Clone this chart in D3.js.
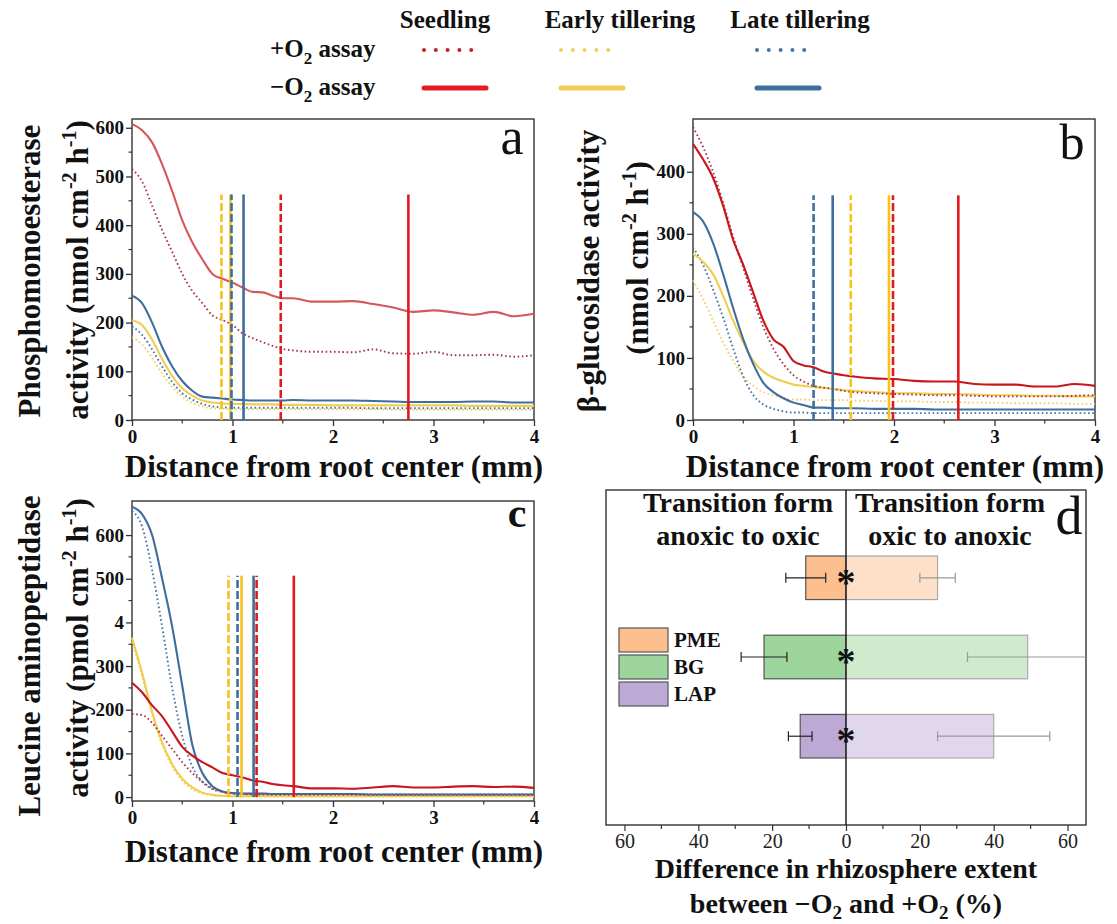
<!DOCTYPE html>
<html>
<head>
<meta charset="utf-8">
<script src="https://cdn.jsdelivr.net/npm/d3@7/dist/d3.min.js"></script>
<style>
  html, body { margin: 0; padding: 0; background: #fff; }
  svg { display: block; }
  svg text { font-family: "Liberation Serif", "Tinos", serif !important; }
</style>
</head>
<body>
<svg id="fig" width="1117" height="924"></svg>
<script>
// ---------------- data ----------------
// distance from root centre (mm), shared sampling grid for panels a–c
const distance = [0,0.1,0.2,0.3,0.4,0.5,0.6,0.7,0.8,0.9,1.0,1.1,1.2,1.3,1.4,1.5,1.6,1.8,2.0,2.2,2.4,2.6,2.8,3.0,3.2,3.4,3.6,3.8,4.0];

// (a) phosphomonoesterase, nmol cm-2 h-1
const pmeSeedlingOx   = [515,490,440,390,345,300,265,240,215,205,195,178,168,160,152,146,143,140,140,139,145,137,136,140,133,133,134,130,133];
const pmeSeedlingAnox = [608,595,570,525,470,410,365,330,300,290,282,272,263,262,255,250,250,243,243,244,238,231,222,225,221,216,222,213,218];
const pmeEarlyOx      = [170,155,128,95,68,48,35,28,24,23,22,22,22,22,22,22,22,22,22,22,22,21,21,21,21,21,21,21,21];
const pmeEarlyAnox    = [205,195,165,125,90,65,50,40,36,34,33,33,32,32,32,31,31,31,30,30,30,30,30,30,30,29,29,29,29];
const pmeLateOx       = [192,175,145,110,78,55,42,33,28,26,25,25,25,25,25,25,25,25,25,25,24,24,24,24,24,24,24,24,24];
const pmeLateAnox     = [255,240,200,150,110,80,60,48,46,44,42,41,40,40,40,40,41,40,40,40,39,38,37,37,37,38,38,36,36];

// (b) beta-glucosidase, nmol cm-2 h-1
const bgSeedlingOx    = [472,440,400,350,295,245,195,150,115,90,72,62,55,52,50,47,45,43,42,41,40,40,39,38,38,38,38,39,40];
const bgSeedlingAnox  = [445,420,390,345,290,250,205,160,130,118,95,88,85,78,75,72,70,67,66,63,62,62,58,57,57,54,54,58,55];
const bgEarlyOx       = [225,195,160,125,95,70,55,45,40,35,33,33,32,32,32,32,31,31,30,30,29,29,28,28,27,27,27,26,26];
const bgEarlyAnox     = [268,255,235,200,160,125,95,78,68,62,57,55,53,52,50,48,47,45,43,43,42,42,41,40,40,39,39,38,38];
const bgLateOx        = [278,250,210,165,115,70,40,25,18,14,12,12,11,11,11,11,11,11,11,11,11,11,11,11,11,11,11,11,11];
const bgLateAnox      = [335,320,285,235,180,130,90,60,45,35,28,24,20,20,19,19,19,18,18,18,17,17,17,17,17,17,17,17,17];

// (c) leucine aminopeptidase, pmol cm-2 h-1
const lapSeedlingOx   = [190,188,170,140,110,80,55,35,20,12,8,7,6,6,5,5,5,5,5,5,5,5,5,5,5,5,5,5,5];
const lapSeedlingAnox = [262,240,210,185,150,115,95,80,68,55,50,45,38,35,30,27,25,20,20,19,22,25,22,22,24,25,23,24,21];
const lapEarlyOx      = [355,278,190,120,70,37,18,8,4,2,1,1,1,1,1,1,1,1,1,1,1,1,1,1,1,1,1,1,1];
const lapEarlyAnox    = [365,285,195,125,75,42,22,10,5,3,2,2,2,2,2,2,2,2,2,2,2,2,2,2,2,2,2,2,2];
const lapLateOx       = [655,620,520,390,250,140,70,35,18,12,9,8,8,8,7,7,7,7,7,6,6,6,6,6,6,6,6,6,6];
const lapLateAnox     = [665,648,600,500,390,255,120,55,25,13,9,8,8,8,7,7,7,7,7,7,6,6,6,6,6,6,6,6,6];

// rhizosphere extent (mm) for Seedling, Early tillering, Late tillering
const stages = ["Seedling", "Early tillering", "Late tillering"];
const extentPmeOx   = [1.48, 0.89, 0.99];
const extentPmeAnox = [2.75, 0.98, 1.11];
const extentBgOx    = [1.99, 1.57, 1.20];
const extentBgAnox  = [2.64, 1.95, 1.39];
const extentLapOx   = [1.24, 0.96, 1.05];
const extentLapAnox = [1.61, 1.09, 1.21];

// (d) difference in rhizosphere extent between -O2 and +O2 (%)
const enzymes      = ["PME", "BG", "LAP"];
const anoxToOx     = [10.9, 22.2, 12.4];
const anoxToOxErr  = [5.4, 6.2, 3.2];
const oxToAnox     = [24.8, 49.2, 40.0];
const oxToAnoxErr  = [4.8, 16.3, 15.2];

// axis tick values
const distTicks = [0, 1, 2, 3, 4];
const pmeTicks  = [0, 100, 200, 300, 400, 500, 600];
const bgTicks   = [0, 100, 200, 300, 400];
const lapTicks  = [0, 100, 200, 300, 400, 500, 600];
const lapTickLabels = ["0", "100", "200", "300", "4", "500", "600"];
const diffTicks = [-60, -40, -20, 0, 20, 40, 60];

// ---------------- styling ----------------
const stageColor = {
  "Seedling": "#c8161d",
  "Early tillering": "#f1cd52",
  "Late tillering": "#3f6e9e"
};
const dotColor = {
  "Seedling": "#a8354a",
  "Early tillering": "#f0cf62",
  "Late tillering": "#4674a6"
};
const extentColor = {
  "Seedling": "#e01b1f",
  "Early tillering": "#f6c21c",
  "Late tillering": "#3f6e9e"
};
const FONT = "Liberation Serif";

const svg = d3.select("#fig");

// ---------------- helpers ----------------
function txt(sel, size, bold) {
  return sel.attr("font-size", size)
    .attr("font-weight", bold ? "bold" : "normal")
    .style("font-family", FONT)
    .attr("fill", "#111");
}

function unitLabel(sel, prefix, unit) {
  // "<prefix>(unit cm-2 h-1)" with raised exponents
  sel.append("tspan").text(prefix + "(" + unit + " cm");
  sel.append("tspan").attr("dy", -12).attr("font-size", "0.65em").text("-2");
  sel.append("tspan").attr("dy", 12).text(" h");
  sel.append("tspan").attr("dy", -12).attr("font-size", "0.65em").text("-1");
  sel.append("tspan").attr("dy", 12).text(")");
}

function o2Label(sel, before, after) {
  sel.append("tspan").text(before + "O");
  sel.append("tspan").attr("dy", 7).attr("font-size", "0.68em").text("2");
  sel.append("tspan").attr("dy", -7).text(after);
}

function profilePanel(cfg) {
  const g = svg.append("g");
  const x = d3.scaleLinear().domain([0, 4]).range([cfg.left, cfg.right]);
  const y = d3.scaleLinear().domain(cfg.yDomain).range([cfg.bottom, cfg.top]);

  // frame
  g.append("rect")
    .attr("x", cfg.left).attr("y", cfg.top)
    .attr("width", cfg.right - cfg.left).attr("height", cfg.bottom - cfg.top)
    .attr("fill", "none").attr("stroke", "#333").attr("stroke-width", 1.4);

  // minor ticks
  const yMinor = d3.range(cfg.yTicks[0] + 50, cfg.yTicks[cfg.yTicks.length - 1] + 1, 100);
  g.append("g").selectAll("line").data(yMinor).join("line")
    .attr("x1", cfg.left - 3.5).attr("x2", cfg.left)
    .attr("y1", d => y(d)).attr("y2", d => y(d))
    .attr("stroke", "#333").attr("stroke-width", 1.2);
  g.append("g").selectAll("line").data([0.5, 1.5, 2.5, 3.5]).join("line")
    .attr("x1", d => x(d)).attr("x2", d => x(d))
    .attr("y1", cfg.bottom).attr("y2", cfg.bottom + 3.5)
    .attr("stroke", "#333").attr("stroke-width", 1.2);

  // axes
  const xAxis = d3.axisBottom(x).tickValues(distTicks).tickFormat(d3.format("d")).tickSize(6).tickPadding(4);
  const yAxis = d3.axisLeft(y).tickValues(cfg.yTicks).tickSize(6).tickPadding(2)
    .tickFormat((d, i) => cfg.yTickLabels ? cfg.yTickLabels[i] : d);
  const gx = g.append("g").attr("transform", `translate(0,${cfg.bottom})`).call(xAxis);
  const gy = g.append("g").attr("transform", `translate(${cfg.left},0)`).call(yAxis);
  [gx, gy].forEach(a => {
    a.select(".domain").remove();
    a.selectAll(".tick line").attr("stroke", "#333").attr("stroke-width", 1.3);
    txt(a.selectAll(".tick text"), 19, true);
  });

  // profile curves
  const line = d3.line().x((d, i) => x(distance[i])).y(d => y(d)).curve(d3.curveMonotoneX);
  cfg.series.forEach(s => {
    g.append("path").datum(s.values)
      .attr("d", line)
      .attr("fill", "none")
      .attr("stroke", s.ox ? dotColor[s.stage] : (cfg.seedColor && s.stage === "Seedling" ? cfg.seedColor : stageColor[s.stage]))
      .attr("stroke-width", s.ox ? 1.9 : 2.1)
      .attr("stroke-dasharray", s.ox ? "1.6,2.6" : null)
      .attr("stroke-linecap", "butt");
  });

  // rhizosphere extent markers: -O2 solid, +O2 dashed drawn on top
  const marks = [];
  stages.forEach((st, i) => marks.push({ stage: st, x: cfg.extAnox[i], dashed: false }));
  stages.forEach((st, i) => marks.push({ stage: st, x: cfg.extOx[i], dashed: true }));
  g.append("g").selectAll("line").data(marks).join("line")
    .attr("x1", d => x(d.x)).attr("x2", d => x(d.x))
    .attr("y1", y(Math.max(cfg.yDomain[0], 0))).attr("y2", y(cfg.extTop))
    .attr("stroke", d => extentColor[d.stage])
    .attr("stroke-width", 2.6)
    .attr("stroke-dasharray", d => d.dashed ? "8,3" : null);

  // panel letter
  txt(g.append("text"), cfg.letterSize, cfg.letterBold)
    .attr("x", cfg.letterX).attr("y", cfg.letterY)
    .attr("text-anchor", "middle").text(cfg.letter);

  // x title
  txt(g.append("text"), 31, true)
    .attr("x", (cfg.left + cfg.right) / 2 + 1).attr("y", cfg.xTitleY)
    .attr("text-anchor", "middle")
    .text("Distance from root center (mm)");

  // y title (two lines)
  txt(g.append("text"), 31, true)
    .attr("transform", `translate(${cfg.yTitle1[0]},${cfg.yTitle1[1]}) rotate(-90)`)
    .attr("text-anchor", "middle").text(cfg.yTitleLine1);
  const t2 = txt(g.append("text"), 31, true)
    .attr("transform", `translate(${cfg.yTitle2[0]},${cfg.yTitle2[1]}) rotate(-90)`)
    .attr("text-anchor", "middle");
  unitLabel(t2, cfg.yTitleLine2Prefix, cfg.unit);
}

function seriesFor(seedOx, seedAnox, earlyOx, earlyAnox, lateOx, lateAnox) {
  return [
    { stage: "Early tillering", ox: true,  values: earlyOx },
    { stage: "Late tillering",  ox: true,  values: lateOx },
    { stage: "Early tillering", ox: false, values: earlyAnox },
    { stage: "Late tillering",  ox: false, values: lateAnox },
    { stage: "Seedling",        ox: true,  values: seedOx },
    { stage: "Seedling",        ox: false, values: seedAnox }
  ];
}

// ---------------- panel a ----------------
profilePanel({
  left: 132, right: 534, top: 119, bottom: 420,
  yDomain: [0, 618], yTicks: pmeTicks,
  series: seriesFor(pmeSeedlingOx, pmeSeedlingAnox, pmeEarlyOx, pmeEarlyAnox, pmeLateOx, pmeLateAnox),
  seedColor: "#d4585a",
  extOx: extentPmeOx, extAnox: extentPmeAnox, extTop: 463,
  letter: "a", letterX: 512, letterY: 154, letterSize: 52,
  xTitleY: 477,
  yTitle1: [40, 271], yTitleLine1: "Phosphomonoesterase",
  yTitle2: [88, 270], yTitleLine2Prefix: "activity ", unit: "nmol"
});

// ---------------- panel b ----------------
profilePanel({
  left: 693, right: 1095, top: 119, bottom: 420,
  yDomain: [0, 485], yTicks: bgTicks,
  series: seriesFor(bgSeedlingOx, bgSeedlingAnox, bgEarlyOx, bgEarlyAnox, bgLateOx, bgLateAnox),
  extOx: extentBgOx, extAnox: extentBgAnox, extTop: 362,
  letter: "b", letterX: 1072, letterY: 159, letterSize: 50,
  xTitleY: 477,
  yTitle1: [599, 271], yTitleLine1: "β-glucosidase activity",
  yTitle2: [648, 258], yTitleLine2Prefix: "", unit: "nmol"
});

// ---------------- panel c ----------------
profilePanel({
  left: 132, right: 534, top: 501, bottom: 801,
  yDomain: [-9, 678], yTicks: lapTicks, yTickLabels: lapTickLabels,
  series: seriesFor(lapSeedlingOx, lapSeedlingAnox, lapEarlyOx, lapEarlyAnox, lapLateOx, lapLateAnox),
  extOx: extentLapOx, extAnox: extentLapAnox, extTop: 507,
  letter: "c", letterX: 517, letterY: 527, letterSize: 42, letterBold: true,
  xTitleY: 862,
  yTitle1: [40, 656], yTitleLine1: "Leucine aminopeptidase",
  yTitle2: [88, 648], yTitleLine2Prefix: "activity ", unit: "pmol"
});

// ---------------- panel d ----------------
(function () {
  const L = 606, R = 1086, T = 490, B = 825;
  const g = svg.append("g");
  const x = d3.scaleLinear().domain([-65, 65]).range([L, R]);
  const y = d3.scaleBand().domain(enzymes).range([556, 758]).paddingInner(0.45).paddingOuter(0);

  const fillDark  = { PME: "#fdbf8d", BG: "#9dd59d", LAP: "#bda9d5" };
  const fillLight = { PME: "#fee0c8", BG: "#cfeacd", LAP: "#e0d7ec" };

  g.append("rect").attr("x", L).attr("y", T).attr("width", R - L).attr("height", B - T)
    .attr("fill", "none").attr("stroke", "#333").attr("stroke-width", 1.4);

  // left bars: anoxic -> oxic
  g.append("g").selectAll("rect").data(enzymes).join("rect")
    .attr("x", (d, i) => x(-anoxToOx[i])).attr("y", d => y(d))
    .attr("width", (d, i) => x(0) - x(-anoxToOx[i])).attr("height", y.bandwidth())
    .attr("fill", d => fillDark[d]).attr("stroke", "#555").attr("stroke-width", 1.2);
  // right bars: oxic -> anoxic
  g.append("g").selectAll("rect").data(enzymes).join("rect")
    .attr("x", x(0)).attr("y", d => y(d))
    .attr("width", (d, i) => x(oxToAnox[i]) - x(0)).attr("height", y.bandwidth())
    .attr("fill", d => fillLight[d]).attr("stroke", "#aaa").attr("stroke-width", 1.2);

  // error bars
  function errBars(vals, errs, sign, color) {
    const eg = g.append("g").attr("stroke", color).attr("stroke-width", 1.2);
    enzymes.forEach((e, i) => {
      const cy = y(e) + y.bandwidth() / 2;
      const x1 = x(Math.max(-65, sign * vals[i] - errs[i]));
      const x2 = x(Math.min(65, sign * vals[i] + errs[i]));
      eg.append("line").attr("x1", x1).attr("x2", x2).attr("y1", cy).attr("y2", cy);
      [sign * vals[i] - errs[i], sign * vals[i] + errs[i]].forEach(v => {
        if (Math.abs(v) < 65) {
          eg.append("line").attr("x1", x(v)).attr("x2", x(v)).attr("y1", cy - 5).attr("y2", cy + 5);
        }
      });
    });
  }
  errBars(anoxToOx, anoxToOxErr, -1, "#222");
  errBars(oxToAnox, oxToAnoxErr, 1, "#999");

  // zero line
  g.append("line").attr("x1", x(0)).attr("x2", x(0)).attr("y1", T).attr("y2", B)
    .attr("stroke", "#111").attr("stroke-width", 1.4);

  // significance marks
  txt(g.append("g").selectAll("text").data(enzymes).join("text"), 38, true)
    .attr("x", x(0)).attr("y", d => y(d) + y.bandwidth() / 2 + 17)
    .attr("text-anchor", "middle").text("*");

  // axis
  const ax = d3.axisBottom(x).tickValues(diffTicks).tickFormat(d => Math.abs(d)).tickSize(6).tickPadding(3);
  const gx = g.append("g").attr("transform", `translate(0,${B})`).call(ax);
  gx.select(".domain").remove();
  gx.selectAll(".tick line").attr("stroke", "#333").attr("stroke-width", 1.2);
  txt(gx.selectAll(".tick text"), 20, false).attr("fill", "#222");
  g.append("g").selectAll("line").data([-50, -30, -10, 10, 30, 50]).join("line")
    .attr("x1", d => x(d)).attr("x2", d => x(d)).attr("y1", B).attr("y2", B + 4)
    .attr("stroke", "#333").attr("stroke-width", 1.2);

  // headings
  const head = [["Transition form", "anoxic to oxic", 738], ["Transition form", "oxic to anoxic", 950]];
  head.forEach(h => {
    txt(g.append("text"), 28, true).attr("x", h[2]).attr("y", 512).attr("text-anchor", "middle").text(h[0]);
    txt(g.append("text"), 28, true).attr("x", h[2]).attr("y", 545).attr("text-anchor", "middle").text(h[1]);
  });
  txt(g.append("text"), 54, false).attr("x", 1069).attr("y", 534).attr("text-anchor", "middle").text("d");

  // legend
  enzymes.forEach((e, i) => {
    const yy = 628 + i * 27;
    g.append("rect").attr("x", 619).attr("y", yy).attr("width", 49).attr("height", 24)
      .attr("fill", fillDark[e]).attr("stroke", "#555").attr("stroke-width", 1.2);
    txt(g.append("text"), 21, true).attr("x", 674).attr("y", yy + 19).text(e);
  });

  // x title
  txt(g.append("text"), 28, true).attr("x", x(0)).attr("y", 878).attr("text-anchor", "middle")
    .text("Difference in rhizosphere extent");
  const t = txt(g.append("text"), 28, true).attr("x", x(0)).attr("y", 913).attr("text-anchor", "middle");
  t.append("tspan").text("between \u2212O");
  t.append("tspan").attr("dy", 6).attr("font-size", "0.68em").text("2");
  t.append("tspan").attr("dy", -6).text(" and +O");
  t.append("tspan").attr("dy", 6).attr("font-size", "0.68em").text("2");
  t.append("tspan").attr("dy", -6).text(" (%)");
})();

// ---------------- top legend ----------------
(function () {
  const g = svg.append("g");
  const cols = [445, 620, 800];
  const x0 = [424, 561, 757];
  stages.forEach((st, i) => {
    txt(g.append("text"), 25, true).attr("x", cols[i]).attr("y", 28).attr("text-anchor", "middle").text(st);
    g.append("line").attr("x1", x0[i]).attr("x2", x0[i] + 59).attr("y1", 50).attr("y2", 50)
      .attr("stroke", i === 0 ? "#c81e2c" : dotColor[st]).attr("stroke-width", 4)
      .attr("stroke-linecap", "round").attr("stroke-dasharray", "0,11.8");
    g.append("line").attr("x1", x0[i]).attr("x2", x0[i] + 62).attr("y1", 88).attr("y2", 88)
      .attr("stroke", i === 0 ? "#e51d22" : stageColor[st]).attr("stroke-width", 5)
      .attr("stroke-linecap", "round");
  });
  o2Label(txt(g.append("text"), 25, true).attr("x", 270).attr("y", 57), "+", " assay");
  o2Label(txt(g.append("text"), 25, true).attr("x", 270).attr("y", 95), "\u2212", " assay");
})();
</script>
</body>
</html>
